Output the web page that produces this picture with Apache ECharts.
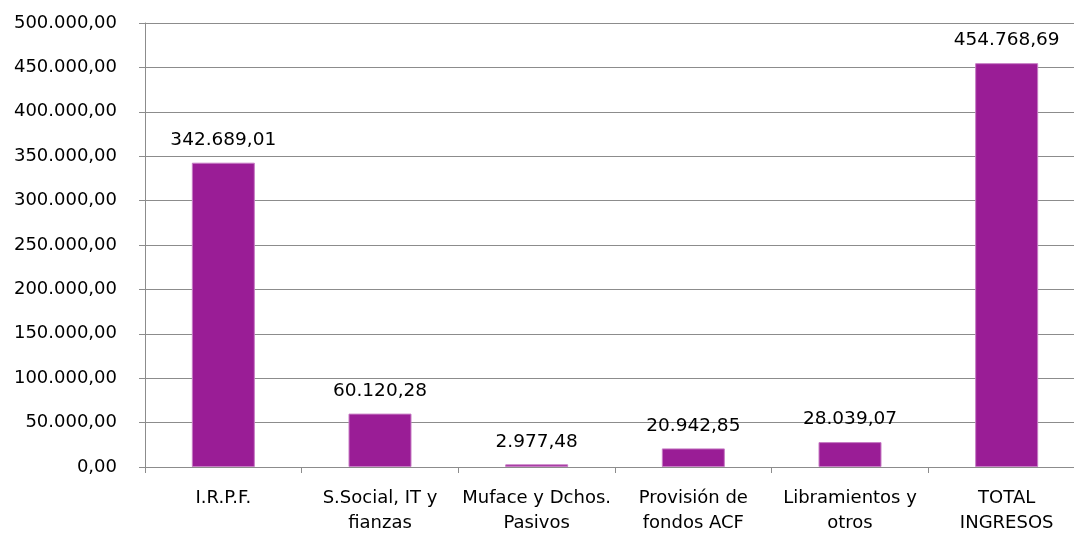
<!DOCTYPE html>
<html>
<head>
<meta charset="utf-8">
<script src="https://cdn.jsdelivr.net/npm/echarts@6/dist/echarts.min.js"></script>
<style>
html,body{margin:0;padding:0;background:#fff;}
#chart{width:1074px;height:533px;}
</style>
</head>
<body>
<div id="chart"></div>
<script>
const categories = ["I.R.P.F.", "S.Social, IT y\nfianzas", "Muface y Dchos.\nPasivos", "Provisión de\nfondos ACF", "Libramientos y\notros", "TOTAL\nINGRESOS"];
const values = [342689.01, 60120.28, 2977.48, 20942.85, 28039.07, 454768.69];
const yMin = 0, yMax = 500000, yStep = 50000;

function fmt(v) {
  const parts = Number(v).toFixed(2).split('.');
  const intPart = parts[0].replace(/\B(?=(\d{3})+(?!\d))/g, '.');
  return intPart + ',' + parts[1];
}

const chart = echarts.init(document.getElementById('chart'));
const FONT = 'DejaVu Sans';
chart.setOption({
  animation: false,
  grid: { left: 145, width: 940, top: 23, height: 444, containLabel: false, outerBoundsMode: 'none' },
  xAxis: {
    type: 'category',
    data: categories,
    axisLine: { show: true, lineStyle: { color: '#8c8c8c', width: 1 } },
    axisTick: { show: true, length: 6, lineStyle: { color: '#8c8c8c' } },
    axisLabel: { color: '#000', fontFamily: FONT, fontSize: 18, lineHeight: 25, margin: 19, interval: 0 }
  },
  yAxis: {
    type: 'value',
    min: yMin, max: yMax, interval: yStep,
    axisLine: { show: true, lineStyle: { color: '#8c8c8c', width: 1 } },
    axisTick: { show: true, length: 6, lineStyle: { color: '#8c8c8c' } },
    splitLine: { show: true, lineStyle: { color: '#8c8c8c', width: 1 } },
    axisLabel: { color: '#000', fontFamily: FONT, fontSize: 18, margin: 28, formatter: fmt }
  },
  series: [{
    type: 'bar',
    data: values,
    barWidth: 63,
    itemStyle: { color: '#9a1d96', borderColor: '#c77cc4', borderWidth: 1 },
    label: {
      show: true, position: 'top', distance: 13,
      color: '#000', fontFamily: FONT, fontSize: 18.5,
      formatter: p => fmt(p.value)
    }
  }]
});
</script>
</body>
</html>
